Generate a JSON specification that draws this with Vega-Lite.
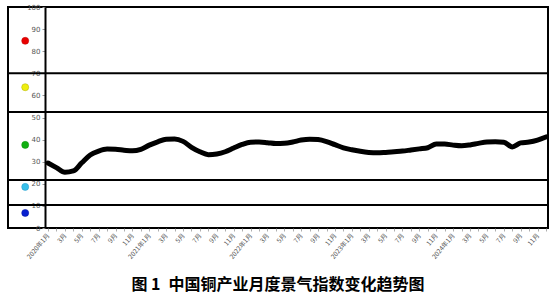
{
  "$schema": "https://vega.github.io/schema/vega-lite/v6.json",
  "width": 540,
  "height": 221,
  "autosize": {"type": "none"},
  "padding": {"left": 8, "top": 7, "right": 10, "bottom": 71},
  "background": "white",
  "config": {
    "view": {"stroke": "black", "strokeWidth": 2}
  },
  "title": {
    "text": "图 1\u2002中国铜产业月度景气指数变化趋势图",
    "orient": "bottom",
    "anchor": "middle",
    "offset": 17,
    "font": "Noto Sans CJK SC",
    "fontSize": 16,
    "fontWeight": "bold",
    "color": "black"
  },
  "datasets": {
    "series": [
      {"t": 0, "value": 29.4}, {"t": 1, "value": 27.3}, {"t": 2, "value": 25.2}, {"t": 3, "value": 25.8},
      {"t": 4, "value": 29.5}, {"t": 5, "value": 33.0}, {"t": 6, "value": 34.8}, {"t": 7, "value": 35.7},
      {"t": 8, "value": 35.6}, {"t": 9, "value": 35.2}, {"t": 10, "value": 34.9}, {"t": 11, "value": 35.6},
      {"t": 12, "value": 37.5}, {"t": 13, "value": 39.0}, {"t": 14, "value": 40.2}, {"t": 15, "value": 40.3},
      {"t": 16, "value": 39.2}, {"t": 17, "value": 36.5}, {"t": 18, "value": 34.5}, {"t": 19, "value": 33.2},
      {"t": 20, "value": 33.5}, {"t": 21, "value": 34.5}, {"t": 22, "value": 36.2}, {"t": 23, "value": 37.8},
      {"t": 24, "value": 38.8}, {"t": 25, "value": 38.9}, {"t": 26, "value": 38.6}, {"t": 27, "value": 38.2},
      {"t": 28, "value": 38.3}, {"t": 29, "value": 38.9}, {"t": 30, "value": 39.8}, {"t": 31, "value": 40.2},
      {"t": 32, "value": 40.0}, {"t": 33, "value": 39.1}, {"t": 34, "value": 37.7}, {"t": 35, "value": 36.3},
      {"t": 36, "value": 35.4}, {"t": 37, "value": 34.7}, {"t": 38, "value": 34.2}, {"t": 39, "value": 34.0},
      {"t": 40, "value": 34.2}, {"t": 41, "value": 34.5}, {"t": 42, "value": 34.8}, {"t": 43, "value": 35.3},
      {"t": 44, "value": 35.8}, {"t": 45, "value": 36.3}, {"t": 46, "value": 38.0}, {"t": 47, "value": 38.0},
      {"t": 48, "value": 37.5}, {"t": 49, "value": 37.2}, {"t": 50, "value": 37.6}, {"t": 51, "value": 38.3},
      {"t": 52, "value": 38.9}, {"t": 53, "value": 39.0}, {"t": 54, "value": 38.8}, {"t": 55, "value": 36.7},
      {"t": 56, "value": 38.5}, {"t": 57, "value": 38.9}, {"t": 58, "value": 39.8}, {"t": 59, "value": 41.2}
    ],
    "bands": [
      {"level": 70}, {"level": 52.5}, {"level": 21.7}, {"level": 10.4}
    ],
    "dots": [
      {"t": -2.7, "value": 84.7, "color": "red"},
      {"t": -2.7, "value": 63.7, "color": "yellow"},
      {"t": -2.7, "value": 37.6, "color": "green"},
      {"t": -2.7, "value": 18.6, "color": "cyan"},
      {"t": -2.7, "value": 6.8, "color": "blue"}
    ]
  },
  "layer": [
    {
      "data": {"name": "series"},
      "mark": {"type": "line", "color": "black", "strokeWidth": 5, "interpolate": "monotone", "strokeCap": "round", "strokeJoin": "round"},
      "encoding": {
        "x": {
          "field": "t", "type": "quantitative",
          "scale": {"domain": [-4.74, 59.24], "nice": false, "zero": false},
          "axis": {
            "title": null,
            "grid": false,
            "values": [0,1,2,3,4,5,6,7,8,9,10,11,12,13,14,15,16,17,18,19,20,21,22,23,24,25,26,27,28,29,30,31,32,33,34,35,36,37,38,39,40,41,42,43,44,45,46,47,48,49,50,51,52,53,54,55,56,57,58,59],
            "labelExpr": "datum.value % 2 == 0 ? (datum.value % 12 == 0 ? (2020 + datum.value / 12) + '年1月' : (datum.value % 12 + 1) + '月') : ''",
            "labelOverlap": false,
            "labelFlush": false,
            "labelAngle": -50,
            "labelAlign": "right",
            "labelBaseline": "middle",
            "labelFontSize": 6.5,
            "labelFont": "Noto Sans CJK SC",
            "labelColor": "#555555",
            "labelPadding": 3,
            "tickSize": 3,
            "tickColor": "#999999",
            "tickWidth": 0.8,
            "domain": false
          }
        },
        "y": {
          "field": "value", "type": "quantitative",
          "scale": {"domain": [0, 100], "nice": false},
          "axis": {
            "title": null,
            "grid": false,
            "values": [0, 10, 20, 30, 40, 50, 60, 70, 80, 90, 100],
            "labelOverlap": false,
            "labelFlush": false,
            "offset": -37,
            "domainColor": "black",
            "domainWidth": 2,
            "tickSize": 3,
            "tickColor": "#999999",
            "labelFontSize": 7,
            "labelFont": "DejaVu Sans",
            "labelColor": "#555555",
            "labelPadding": 2
          }
        }
      }
    },
    {
      "data": {"name": "bands"},
      "mark": {"type": "rule", "color": "black", "strokeWidth": 2},
      "encoding": {
        "y": {
          "field": "level", "type": "quantitative",
          "scale": {"domain": [0, 100], "nice": false},
          "axis": {
            "title": null,
            "grid": false,
            "values": [0, 10, 20, 30, 40, 50, 60, 70, 80, 90, 100],
            "labelOverlap": false,
            "labelFlush": false,
            "offset": -37,
            "domainColor": "black",
            "domainWidth": 2,
            "tickSize": 3,
            "tickColor": "#999999",
            "labelFontSize": 7,
            "labelFont": "DejaVu Sans",
            "labelColor": "#555555",
            "labelPadding": 2
          }
        }
      }
    },
    {
      "data": {"name": "dots"},
      "mark": {"type": "point", "filled": true, "size": 50, "opacity": 1, "strokeWidth": 0.5},
      "encoding": {
        "x": {
          "field": "t", "type": "quantitative",
          "scale": {"domain": [-4.74, 59.24], "nice": false, "zero": false},
          "axis": {
            "title": null,
            "grid": false,
            "values": [0,1,2,3,4,5,6,7,8,9,10,11,12,13,14,15,16,17,18,19,20,21,22,23,24,25,26,27,28,29,30,31,32,33,34,35,36,37,38,39,40,41,42,43,44,45,46,47,48,49,50,51,52,53,54,55,56,57,58,59],
            "labelExpr": "datum.value % 2 == 0 ? (datum.value % 12 == 0 ? (2020 + datum.value / 12) + '年1月' : (datum.value % 12 + 1) + '月') : ''",
            "labelOverlap": false,
            "labelFlush": false,
            "labelAngle": -50,
            "labelAlign": "right",
            "labelBaseline": "middle",
            "labelFontSize": 6.5,
            "labelFont": "Noto Sans CJK SC",
            "labelColor": "#555555",
            "labelPadding": 3,
            "tickSize": 3,
            "tickColor": "#999999",
            "tickWidth": 0.8,
            "domain": false
          }
        },
        "y": {
          "field": "value", "type": "quantitative",
          "scale": {"domain": [0, 100], "nice": false},
          "axis": {
            "title": null,
            "grid": false,
            "values": [0, 10, 20, 30, 40, 50, 60, 70, 80, 90, 100],
            "labelOverlap": false,
            "labelFlush": false,
            "offset": -37,
            "domainColor": "black",
            "domainWidth": 2,
            "tickSize": 3,
            "tickColor": "#999999",
            "labelFontSize": 7,
            "labelFont": "DejaVu Sans",
            "labelColor": "#555555",
            "labelPadding": 2
          }
        },
        "fill": {
          "field": "color", "type": "nominal", "legend": null,
          "scale": {"domain": ["red", "yellow", "green", "cyan", "blue"], "range": ["#e80000", "#eeee10", "#10b010", "#38c0ea", "#0820d0"]}
        },
        "stroke": {
          "field": "color", "type": "nominal", "legend": null,
          "scale": {"domain": ["red", "yellow", "green", "cyan", "blue"], "range": ["#c00000", "#b0b000", "#0a900a", "#2898c8", "#0010a0"]}
        }
      }
    }
  ]
}
